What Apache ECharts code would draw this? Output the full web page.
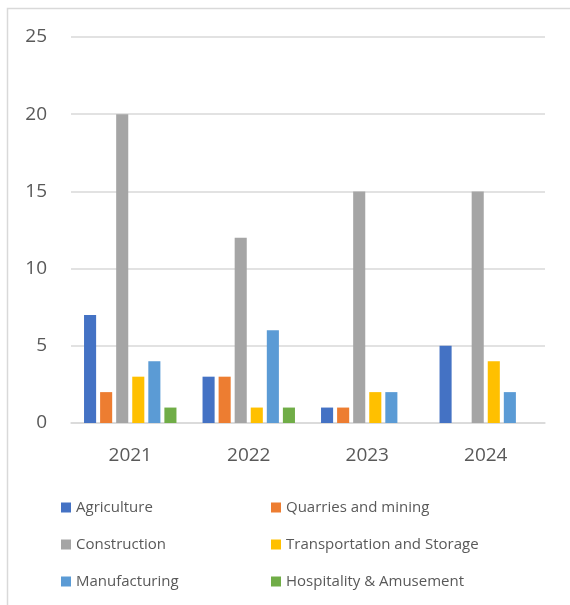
<!DOCTYPE html>
<html>
<head>
<meta charset="utf-8">
<script src="https://cdn.jsdelivr.net/npm/echarts@6/dist/echarts.min.js"></script>
<style>
  html, body { margin: 0; padding: 0; background: #fff; }
  #chart { width: 570px; height: 605px; }
</style>
</head>
<body>
<div id="chart"></div>
<script>
// data
const years = ['2021', '2022', '2023', '2024']
const agriculture = [7, 3, 1, 5]
const quarries = [2, 3, 1, 0]
const construction = [20, 12, 15, 15]
const transportation = [3, 1, 2, 4]
const manufacturing = [4, 6, 2, 2]
const hospitality = [1, 1, 0, 0]

const seriesDefs = [
  { name: 'Agriculture', data: agriculture, color: '#4472c4' },
  { name: 'Quarries and mining', data: quarries, color: '#ed7d31' },
  { name: 'Construction', data: construction, color: '#a5a5a5' },
  { name: 'Transportation and Storage', data: transportation, color: '#ffc000' },
  { name: 'Manufacturing', data: manufacturing, color: '#5b9bd5' },
  { name: 'Hospitality & Amusement', data: hospitality, color: '#70ad47' }
]

const chart = echarts.init(document.getElementById('chart'))
const fontFamily = 'Open Sans, Noto Sans, sans-serif'
const legendBase = {
  orient: 'vertical',
  top: 495,
  itemWidth: 10,
  itemHeight: 10,
  itemGap: 22,
  icon: 'rect',
  textStyle: { color: '#595959', fontSize: 15, fontFamily: fontFamily }
}

chart.setOption({
  backgroundColor: '#fff',
  animation: false,
  graphic: [{
    type: 'rect',
    shape: { x: 7.5, y: 8.5, width: 700, height: 700 },
    style: { fill: null, stroke: '#d9d9d9', lineWidth: 1.5 },
    silent: true
  }],
  grid: { left: 71, right: 25, top: 37, bottom: 182 },
  legend: [
    Object.assign({ left: 56, data: ['Agriculture', 'Construction', 'Manufacturing'] }, legendBase),
    Object.assign({ left: 266, data: ['Quarries and mining', 'Transportation and Storage', 'Hospitality & Amusement'] }, legendBase)
  ],
  xAxis: {
    type: 'category',
    data: years,
    axisLine: { lineStyle: { color: '#d9d9d9', width: 1.5 } },
    axisTick: { show: false },
    axisLabel: { color: '#595959', fontSize: 19, fontFamily: fontFamily, margin: 23 }
  },
  yAxis: {
    type: 'value',
    min: 0,
    max: 25,
    interval: 5,
    axisLine: { show: false },
    axisTick: { show: false },
    axisLabel: { color: '#595959', fontSize: 19, fontFamily: fontFamily, margin: 24 },
    splitLine: { lineStyle: { color: '#d9d9d9', width: 1.5 } }
  },
  series: seriesDefs.map(function(s) {
    return {
      name: s.name,
      type: 'bar',
      data: s.data,
      barGap: '33%',
      barCategoryGap: '22%',
      itemStyle: { color: s.color }
    }
  })
})
</script>
</body>
</html>
